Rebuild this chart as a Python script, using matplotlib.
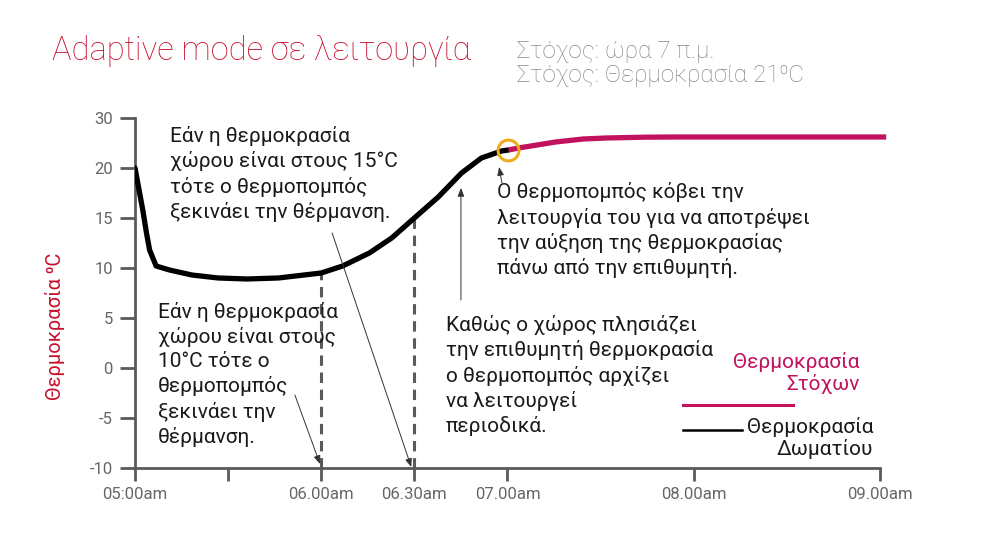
import matplotlib
matplotlib.use('Agg')
import matplotlib.pyplot as plt
from matplotlib.ticker import FixedLocator, FixedFormatter

plt.rcParams['font.family'] = ['Roboto', 'DejaVu Sans']

# minutes after 05:00
room_minutes = [0, 2.5, 3.7, 4.7, 6.8, 11.1, 18.3, 26.8, 36.1, 46.2, 54.5, 60,
                66.9, 75.5, 82.7, 90, 97.7, 105.2, 111.6, 118.1, 120.3]
room_temp = [20.0, 15.8, 13.5, 11.8, 10.2, 9.8, 9.3, 9.0, 8.9, 9.0, 9.3, 9.5,
             10.2, 11.5, 13.0, 15.0, 17.1, 19.5, 21.0, 21.7, 21.8]

target_minutes = [120.3, 123.6, 135.5, 144.4, 152, 164.2, 174, 242]
target_temp = [21.8, 22.0, 22.6, 22.9, 23.0, 23.08, 23.1, 23.1]

x_ticks = [0, 30, 60, 90, 120, 180, 240]
x_labels = ['05:00am', '', '06.00am', '06.30am', '07.00am', '08.00am', '09.00am']
y_ticks = [-10, -5, 0, 5, 10, 15, 20, 25]
y_labels = ['-10', '-5', '0', '5', '10', '15', '20', '30']

dash_minutes = [60, 90]
dash_top = [9.5, 15.0]

RED = '#c8102e'
MAGENTA = '#c2125e'
GREY = '#5a5a5a'
ORANGE = '#f0aa1e'

fig = plt.figure(figsize=(9.84, 5.46), dpi=100)
ax = fig.add_axes([0.1372, 0.1429, 0.7571, 0.641])

for m, top in zip(dash_minutes, dash_top):
    ax.plot([m, m], [-10, top], color=GREY, lw=2.2, ls=(0, (3.4, 2.2)), zorder=2)

ax.plot(room_minutes, room_temp, color='black', lw=3.8,
        solid_capstyle='round', solid_joinstyle='round', zorder=3)
ax.plot(target_minutes, target_temp, color=MAGENTA, lw=3.8,
        solid_capstyle='butt', solid_joinstyle='round', clip_on=False, zorder=3)
ax.plot([room_minutes[-1]], [room_temp[-1]], 'o', ms=15, mfc='none',
        mec=ORANGE, mew=2.2, zorder=4)

ax.set_xlim(0, 240)
ax.set_ylim(-10, 25)
ax.xaxis.set_major_locator(FixedLocator(x_ticks))
ax.xaxis.set_major_formatter(FixedFormatter(x_labels))
ax.yaxis.set_major_locator(FixedLocator(y_ticks))
ax.yaxis.set_major_formatter(FixedFormatter(y_labels))

for side in ['top', 'right']:
    ax.spines[side].set_visible(False)
for side in ['left', 'bottom']:
    ax.spines[side].set_color(GREY)
    ax.spines[side].set_linewidth(2)
ax.tick_params(axis='y', length=11, width=2, color=GREY, labelcolor='#666666',
               labelsize=12, pad=5)
ax.tick_params(axis='x', length=9, width=2, color=GREY, labelcolor='#666666',
               labelsize=12, pad=5)

ax.set_ylabel('Θερμοκρασία ⁰C', color=RED, fontsize=14.5)
ax.yaxis.set_label_coords(-0.094, 0.406)

fig.text(0.053, 0.890, 'Adaptive mode σε λειτουργία', color=RED,
         fontsize=23.5, weight='light', va='baseline')
fig.text(0.525, 0.850, 'Στόχος: ώρα 7 π.μ.\nΣτόχος: Θερμοκρασία 21⁰C',
         color='#888888', fontsize=17.5, weight='light', linespacing=1.03,
         va='baseline')

txt = dict(fontsize=15, color='#1a1a1a', linespacing=1.33, va='top')
ax.text(11.3, 24.2, 'Εάν η θερμοκρασία\nχώρου είναι στους 15°C\n'
        'τότε ο θερμοπομπός\nξεκινάει την θέρμανση.', **txt)
ax.text(7.4, 6.6, 'Εάν η θερμοκρασία\nχώρου είναι στους\n10°C τότε ο\n'
        'θερμοπομπός\nξεκινάει την\nθέρμανση.', **txt)
ax.text(100.2, 5.3, 'Καθώς ο χώρος πλησιάζει\nτην επιθυμητή θερμοκρασία\n'
        'ο θερμοπομπός αρχίζει\nνα λειτουργεί\nπεριοδικά.', **txt)
ax.text(116.6, 18.6, 'Ο θερμοπομπός κόβει την\nλειτουργία του για να αποτρέψει\n'
        'την αύξηση της θερμοκρασίας\nπάνω από την επιθυμητή.', **txt)

arrow = dict(arrowstyle='-|>,head_length=0.5,head_width=0.2', color='#333333',
             lw=0.7, shrinkA=0, shrinkB=0)
ax.annotate('', xy=(89, -9.9), xytext=(63.5, 13.5), arrowprops=arrow)
ax.annotate('', xy=(59.6, -9.6), xytext=(51.5, -2.7), arrowprops=arrow)
ax.annotate('', xy=(105, 18.0), xytext=(105, 6.8), arrowprops=arrow)
ax.annotate('', xy=(117.3, 20.1), xytext=(118.2, 18.5), arrowprops=arrow)

# legend drawn by hand
ax.plot([176.5, 212], [-3.7, -3.7], color=MAGENTA, lw=2.2, clip_on=False)
ax.plot([176.5, 195.5], [-6.2, -6.2], color='black', lw=1.8, clip_on=False)
ax.text(233.5, 1.6, 'Θερμοκρασία\nΣτόχων', color=MAGENTA, fontsize=15,
        ha='right', va='top', linespacing=1.15)
ax.text(237.8, -4.9, 'Θερμοκρασία\nΔωματίου', color='#1a1a1a', fontsize=15,
        ha='right', va='top', linespacing=1.15)

fig.savefig('out.png', dpi=100)
